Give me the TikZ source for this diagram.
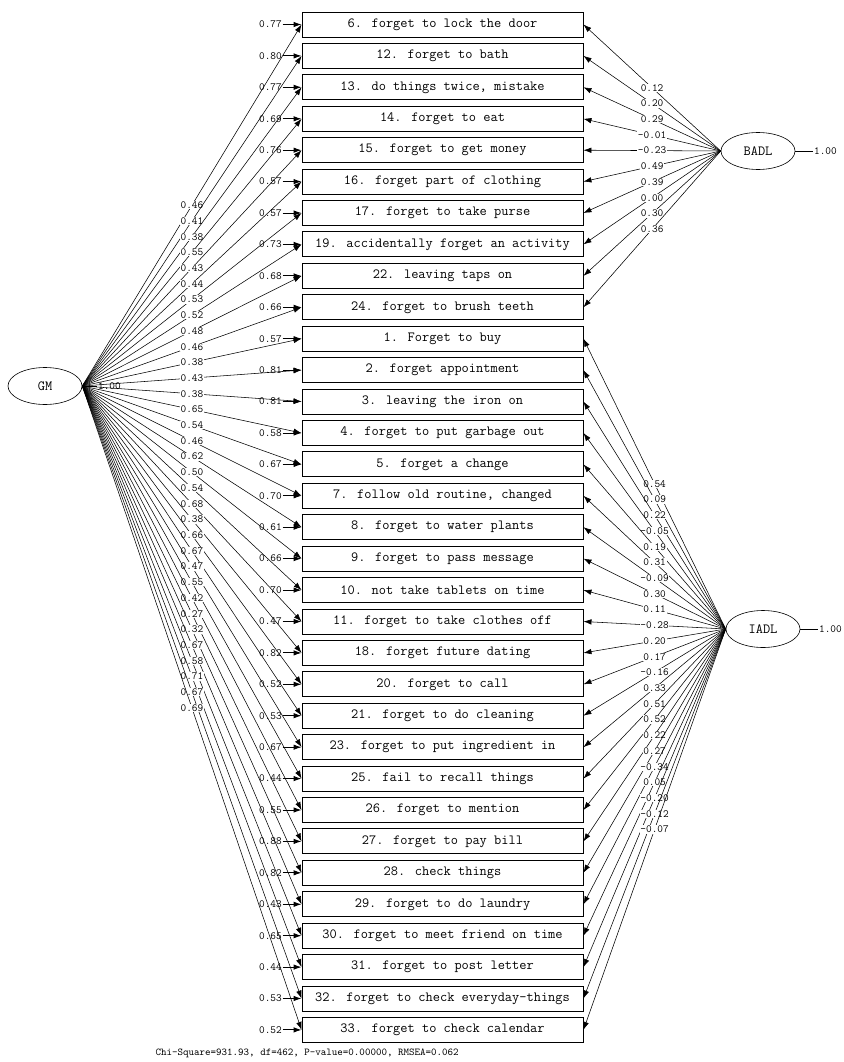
\documentclass[tikz,border=0pt]{standalone}
\usepackage{fontspec}
\usetikzlibrary{arrows.meta,positioning,shapes.geometric}

\tikzset{
  obs/.style={draw, line width=0.9pt, minimum width=281pt, minimum height=25pt, inner sep=0pt, font=\ttfamily\fontsize{14}{14}\selectfont},
  latent/.style={draw, ellipse, line width=0.6pt, minimum width=74pt, minimum height=37pt, inner sep=0pt, font=\ttfamily\fontsize{14}{14}\selectfont},
  coef/.style={fill=white, inner sep=0.6pt, font=\ttfamily\fontsize{11}{11}\selectfont},
  arr/.style={-{Latex[length=8pt,width=5.5pt]}, line width=0.55pt},
}

\begin{document}
\begin{tikzpicture}[x=1pt,y=-1pt]
\useasboundingbox (0,0) rectangle (843,1062);

% observed variables
\node [obs] (q6)  at (442.5,24.5)  {6. forget to lock the door};
\node [obs] (q12) at (442.5,55.9)  {12. forget to bath};
\node [obs] (q13) at (442.5,87.3)  {13. do things twice, mistake};
\node [obs] (q14) at (442.5,118.8) {14. forget to eat};
\node [obs] (q15) at (442.5,150.2) {15. forget to get money};
\node [obs] (q16) at (442.5,181.6) {16. forget part of clothing};
\node [obs] (q17) at (442.5,213.0) {17. forget to take purse};
\node [obs] (q19) at (442.5,244.4) {19. accidentally forget an activity};
\node [obs] (q22) at (442.5,275.9) {22. leaving taps on};
\node [obs] (q24) at (442.5,307.3) {24. forget to brush teeth};
\node [obs] (q1)  at (442.5,338.7) {1. Forget to buy};
\node [obs] (q2)  at (442.5,370.1) {2. forget appointment};
\node [obs] (q3)  at (442.5,401.5) {3. leaving the iron on};
\node [obs] (q4)  at (442.5,433.0) {4. forget to put garbage out};
\node [obs] (q5)  at (442.5,464.4) {5. forget a change};
\node [obs] (q7)  at (442.5,495.8) {7. follow old routine, changed};
\node [obs] (q8)  at (442.5,527.2) {8. forget to water plants};
\node [obs] (q9)  at (442.5,558.6) {9. forget to pass message};
\node [obs] (q10) at (442.5,590.1) {10. not take tablets on time};
\node [obs] (q11) at (442.5,621.5) {11. forget to take clothes off};
\node [obs] (q18) at (442.5,652.9) {18. forget future dating};
\node [obs] (q20) at (442.5,684.3) {20. forget to call};
\node [obs] (q21) at (442.5,715.7) {21. forget to do cleaning};
\node [obs] (q23) at (442.5,747.2) {23. forget to put ingredient in};
\node [obs] (q25) at (442.5,778.6) {25. fail to recall things};
\node [obs] (q26) at (442.5,810.0) {26. forget to mention};
\node [obs] (q27) at (442.5,841.4) {27. forget to pay bill};
\node [obs] (q28) at (442.5,872.8) {28. check things};
\node [obs] (q29) at (442.5,904.3) {29. forget to do laundry};
\node [obs] (q30) at (442.5,935.7) {30. forget to meet friend on time};
\node [obs] (q31) at (442.5,967.1) {31. forget to post letter};
\node [obs] (q32) at (442.5,998.5) {32. forget to check everyday-things};
\node [obs] (q33) at (442.5,1029.9) {33. forget to check calendar};

% latent factors
\node [latent] (GM)   at (45,386)  {GM};
\node [latent] (BADL) at (758,151) {BADL};
\node [latent] (IADL) at (763,629) {IADL};

\node [coef, right=15pt of GM] (vGM) {1.00};
\node [coef, right=18pt of BADL] (vBADL) {1.00};
\node [coef, right=18pt of IADL] (vIADL) {1.00};
\draw [line width=0.55pt] (GM) -- (vGM);
\draw [line width=0.55pt] (BADL) -- (vBADL);
\draw [line width=0.55pt] (IADL) -- (vIADL);

% error variances
\foreach \q/\e in {6/0.77, 12/0.80, 13/0.77, 14/0.69, 15/0.76, 16/0.57, 17/0.57,
    19/0.73, 22/0.68, 24/0.66, 1/0.57, 2/0.81, 3/0.81, 4/0.58, 5/0.67, 7/0.70,
    8/0.61, 9/0.66, 10/0.70, 11/0.47, 18/0.82, 20/0.52, 21/0.53, 23/0.67,
    25/0.44, 26/0.55, 27/0.88, 28/0.82, 29/0.43, 30/0.65, 31/0.44, 32/0.53, 33/0.52}
{
  \node [coef, left=19pt of q\q] (e\q) {\e};
  \draw [arr, line width=0.9pt] (e\q) -- (q\q);
}

% general memory loadings
\foreach \q/\l in {6/0.46, 12/0.41, 13/0.38, 14/0.55, 15/0.43, 16/0.44, 17/0.53,
    19/0.52, 22/0.48, 24/0.46, 1/0.38, 2/0.43, 3/0.38, 4/0.65, 5/0.54, 7/0.46,
    8/0.62, 9/0.50, 10/0.54, 11/0.68, 18/0.38, 20/0.66, 21/0.67, 23/0.47,
    25/0.55, 26/0.42, 27/0.27, 28/0.32, 29/0.67, 30/0.58, 31/0.71, 32/0.67, 33/0.69}
  \draw [arr] (GM.east) -- node [coef] {\l} (q\q.west);

% BADL loadings
\foreach \q/\l in {6/0.12, 12/0.20, 13/0.29, 14/-0.01, 15/-0.23, 16/0.49,
    17/0.39, 19/0.00, 22/0.30, 24/0.36}
  \draw [arr] (BADL.west) -- node [coef] {\l} (q\q.east);

% IADL loadings
\foreach \q/\l in {1/0.54, 2/0.09, 3/0.22, 4/-0.05, 5/0.19, 7/0.31, 8/-0.09,
    9/0.30, 10/0.11, 11/-0.28, 18/0.20, 20/0.17, 21/-0.16, 23/0.33, 25/0.51,
    26/0.52, 27/0.22, 28/0.27, 29/-0.34, 30/0.05, 31/-0.20, 32/-0.12, 33/-0.07}
  \draw [arr] (IADL.west) -- node [coef] {\l} (q\q.east);

\node [anchor=west, font=\ttfamily\fontsize{10.5}{10.5}\selectfont] (fit) at (152,1053)
  {Chi-Square=931.93, df=462, P-value=0.00000, RMSEA=0.062};
\end{tikzpicture}
\end{document}
